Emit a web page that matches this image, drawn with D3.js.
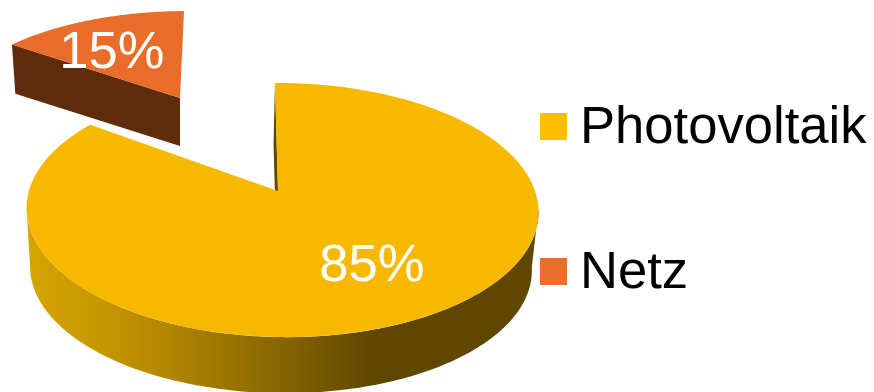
<!DOCTYPE html>
<html>
<head>
<meta charset="utf-8">
<script src="https://cdn.jsdelivr.net/npm/d3@7"></script>
<style>
  html, body { margin: 0; padding: 0; background: #fff; }
  svg { display: block; }
  text { font-family: "Liberation Sans", Arial, sans-serif; font-size: 52.6px; }
</style>
</head>
<body>
<svg id="chart" width="874" height="392"></svg>
<script>
// Energy share by source
const categories = ["Photovoltaik", "Netz"];
const shares = [85, 15];
const shareLabels = ["85%", "15%"];
const topColors = ["#f6b900", "#e96c28"];
const legendColors = ["#fdbf00", "#ed6d2b"];
const wallColors = ["#5f4700", "#5f2d0b"];
const legendBaselines = [143, 288];
const labelAnchors = [[372, 281], [112, 68]];

// Camera pose of each slice: top plane, bottom plane, rim visibility
const poses = [
  { ax: 278, ay: 191, rx: 253, ry: 124.2, shear: -0.028, bx: 276.5, by: 250, depthScale: 0.98, rim: true },
  { ax: 180, ay: 98, rx: 232, ry: 100, shear: 0.046, bx: 180, by: 146, depthScale: 0.98, rim: false }
];
const perspective = 0.15;
const yaw = -0.0156;

// Projects a pie angle and radius fraction onto the tilted disc
function project(pose, angle, radius, lower) {
  const u = Math.sin(angle) * radius;
  const v = Math.cos(angle) * radius;
  const s = 1 / (1 + perspective * v + yaw * u);
  const k = lower ? pose.depthScale : 1;
  const ox = lower ? pose.bx : pose.ax;
  const oy = lower ? pose.by : pose.ay;
  return [
    ox + k * (pose.rx * u * s + pose.shear * pose.ry * v * s),
    oy - k * pose.ry * v * s
  ];
}

const svg = d3.select("#chart");
const line = d3.line();
const arcs = d3.pie().sort(null)(shares);
const deg = Math.PI / 180;

// Lighting across the outer rim, bright on the left and falling off to the right
const rimStops = [[0, "#d4a400"], [0.25, "#c39400"], [0.5, "#a67d00"], [0.75, "#856400"], [1, "#5f4700"]];
const gradient = svg.append("defs").append("linearGradient")
  .attr("id", "rimShade")
  .attr("gradientUnits", "userSpaceOnUse")
  .attr("x1", 30).attr("y1", 0).attr("x2", 370).attr("y2", 0);
gradient.selectAll("stop").data(rimStops).join("stop")
  .attr("offset", d => d[0])
  .attr("stop-color", d => d[1]);

const slices = svg.selectAll("g.slice").data(arcs).join("g").attr("class", "slice");

// Outer rim of the front of the disc, between the two horizontal extremes
slices.filter((d, i) => poses[i].rim).append("path")
  .attr("fill", "url(#rimShade)")
  .attr("d", (d, i) => {
    const pose = poses[0];
    const sweep = d3.range(98, 262.5, 1).map(a => a * deg);
    const upper = sweep.map(a => project(pose, a, 1, false));
    const lower = sweep.map(a => project(pose, a, 1, true)).reverse();
    return line(upper.concat(lower)) + "Z";
  });

// Radial wall turned towards the viewer
slices.append("path")
  .attr("fill", (d, i) => wallColors[i])
  .attr("d", (d, i) => {
    const pose = poses[i];
    const a = d.startAngle;
    return line([
      project(pose, a, 1, false),
      project(pose, a, 0, false),
      project(pose, a, 0, true),
      project(pose, a, 1, true)
    ]) + "Z";
  });

// Top face
slices.append("path")
  .attr("fill", (d, i) => topColors[i])
  .attr("d", (d, i) => {
    const pose = poses[i];
    const steps = d3.range(0, 121).map(t => d.startAngle + (d.endAngle - d.startAngle) * t / 120);
    return line([project(pose, 0, 0, false)].concat(steps.map(a => project(pose, a, 1, false)))) + "Z";
  });

// Value labels
svg.selectAll("text.value").data(shareLabels).join("text")
  .attr("class", "value")
  .attr("x", (d, i) => labelAnchors[i][0])
  .attr("y", (d, i) => labelAnchors[i][1])
  .attr("text-anchor", "middle")
  .attr("fill", "#fff")
  .text(d => d);

// Legend
const legend = svg.selectAll("g.legend").data(categories).join("g").attr("class", "legend");
legend.append("rect")
  .attr("x", 540)
  .attr("y", (d, i) => legendBaselines[i] - 30)
  .attr("width", 27)
  .attr("height", 27)
  .attr("fill", (d, i) => legendColors[i]);
legend.append("text")
  .attr("x", 580)
  .attr("y", (d, i) => legendBaselines[i])
  .attr("fill", "#000")
  .text(d => d);
</script>
</body>
</html>
